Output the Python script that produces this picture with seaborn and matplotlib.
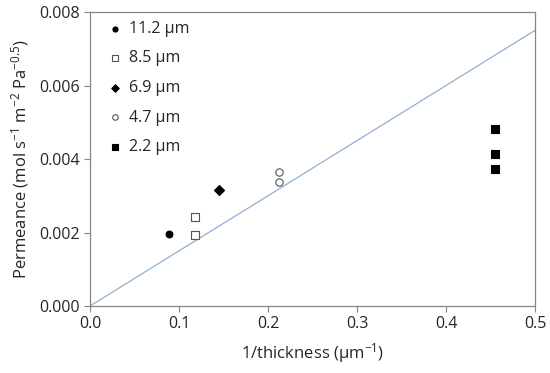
import pandas as pd
import matplotlib
matplotlib.use("Agg")
import matplotlib.pyplot as plt
import seaborn as sns

# Data
labels = ["11.2 µm", "8.5 µm", "6.9 µm", "4.7 µm", "2.2 µm"]
thickness = [11.2, 8.5, 6.9, 4.7, 2.2]
permeance = [
    [0.00196],
    [0.00243, 0.00194],
    [0.00316],
    [0.00365, 0.00337],
    [0.00482, 0.00414, 0.00373],
]
fit_x = [0.0, 0.5]
fit_y = [0.0, 0.0075]

markers = ["o", "s", "D", "o", "s"]
faces = ["black", "white", "black", "white", "black"]
edges = ["black", "#555555", "black", "#555555", "black"]
sizes = [24, 30, 26, 28, 32]

rows = []
for lab, t, vals in zip(labels, thickness, permeance):
    for v in vals:
        rows.append({"x": 1 / t, "y": v, "label": lab})
df = pd.DataFrame(rows)

sns.set_style("white")
plt.rcParams["font.family"] = ["Open Sans", "DejaVu Sans"]
plt.rcParams["mathtext.default"] = "regular"

fig = plt.figure(figsize=(5.5, 3.73), dpi=100)
ax = fig.add_axes([0.1636, 0.1796, 0.8091, 0.7882])

sns.lineplot(x=fit_x, y=fit_y, ax=ax, color="#8fb0cf", linewidth=0.9)

for lab, m, fc, ec, s in zip(labels, markers, faces, edges, sizes):
    sub = df[df["label"] == lab]
    sns.scatterplot(data=sub, x="x", y="y", ax=ax, marker=m, s=s,
                    facecolor=fc, edgecolor=ec, linewidth=0.8, label=lab,
                    zorder=3)

ax.set_xlim(0, 0.5)
ax.set_ylim(0, 0.008)
ax.set_xticks([0, 0.1, 0.2, 0.3, 0.4, 0.5])
ax.set_yticks([0, 0.002, 0.004, 0.006, 0.008])
ax.xaxis.set_major_formatter(matplotlib.ticker.FormatStrFormatter("%.1f"))
ax.yaxis.set_major_formatter(matplotlib.ticker.FormatStrFormatter("%.3f"))
ax.tick_params(axis="both", direction="out", length=4, width=0.8,
               color="#868686", labelsize=11.5, bottom=True, left=True)
for sp in ax.spines.values():
    sp.set_color("#868686")
    sp.set_linewidth(0.9)

ax.set_xlabel("1/thickness (µm$^{-1}$)", fontsize=12, labelpad=6)
ax.set_ylabel("Permeance (mol s$^{-1}$ m$^{-2}$ Pa$^{-0.5}$)", fontsize=12,
              labelpad=6)

leg = ax.legend(loc="upper left", bbox_to_anchor=(0.015, 1.0), frameon=False,
                fontsize=11.5, labelspacing=0.85, handletextpad=0.3,
                handlelength=1.2, borderaxespad=0.15, markerscale=0.75)

fig.savefig("out.png", dpi=100)
